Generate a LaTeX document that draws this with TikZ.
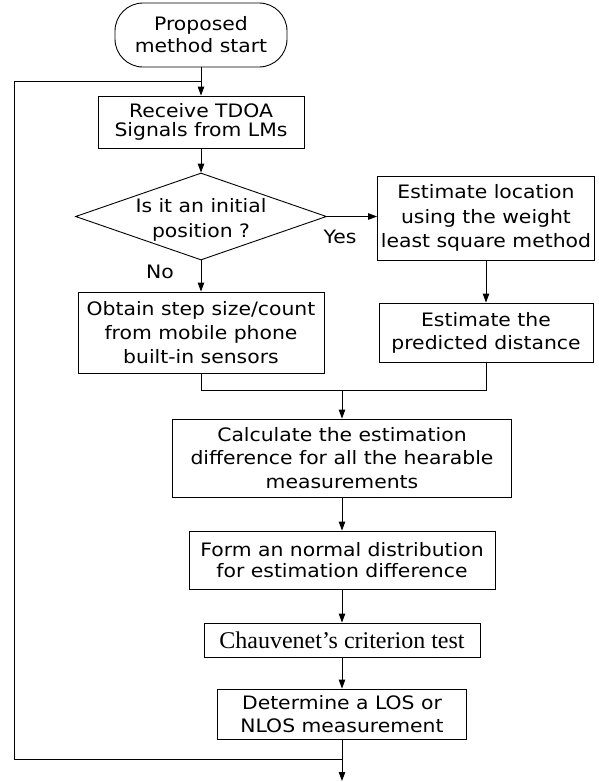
\documentclass[tikz,border=0pt]{standalone}
\usepackage{fontspec}
\setmainfont{DejaVu Sans}[FakeStretch=1.1]
\newfontfamily\serifface{Liberation Serif}
\usetikzlibrary{shapes.geometric,arrows.meta}
\begin{document}
\begin{tikzpicture}[x=1pt,y=-1pt,
  line/.style={line width=0.9pt},
  arr/.style={line width=0.9pt,-{Triangle[length=9pt,width=6.5pt]}},
  box/.style={draw,line width=0.9pt,align=center,inner sep=0pt,font=\fontsize{18.5}{#1}\selectfont},
  box/.default=23pt,
  lbl/.style={inner sep=0pt,align=center,font=\fontsize{18.5}{#1}\selectfont},
  lbl/.default=23pt]
\fill[white] (0,0) rectangle (599,782);
\useasboundingbox (0,0) rectangle (599,782);

\node[box=22pt,minimum width=172pt,minimum height=64pt,rounded corners=28pt] (start) at (201,35) {Proposed\\method start};
\node[box=19pt,minimum width=206pt,minimum height=52pt] (recv) at (201,122) {Receive TDOA\\Signals from LMs};
\node[draw,diamond,line width=0.9pt,minimum width=251pt,minimum height=87pt,inner sep=0pt] (dec) at (201,216.5) {};
\node[lbl=25pt] (dectext) at (201,220) {Is it an initial\\position ?};
\node[lbl] (yes) at (340,237) {Yes};
\node[lbl] (no) at (160,272) {No};
\node[box=24.5pt,minimum width=217pt,minimum height=84pt] (estloc) at (486,218) {Estimate location\\using the weight\\least square method};
\node[box=23pt,minimum width=214pt,minimum height=59pt] (pred) at (486,332.5) {Estimate the\\predicted distance};
\node[box=24pt,minimum width=246pt,minimum height=81pt] (obtain) at (201,332.5) {Obtain step size/count\\from mobile phone\\built-in sensors};
\node[box=23.5pt,minimum width=339pt,minimum height=78pt] (calc) at (342,458) {Calculate the estimation\\difference for all the hearable\\measurements};
\node[box=21.5pt,minimum width=306pt,minimum height=58pt] (form) at (342,560) {Form an normal distribution\\for estimation difference};
\node[box,minimum width=276pt,minimum height=34pt,font=\serifface\fontsize{24}{26}\selectfont] (chauv) at (342,640) {Chauvenet’s criterion test};
\node[box=23pt,minimum width=249pt,minimum height=50pt] (det) at (342,714) {Determine a LOS or\\NLOS measurement};

\coordinate (mergeY) at (342,390);
\coordinate (loopBL) at (14,759);
\coordinate (loopTL) at (14,81);
\coordinate (endpt) at (342,781);

\draw[arr] (start.south) -- (recv.north);
\draw[arr] (recv.south) -- (dec.north);
\draw[arr] (dec.east) -- (dec.east -| estloc.west);
\draw[arr] (dec.south) -- (obtain.north);
\draw[arr] (estloc.south) -- (pred.north);
\draw[line] (obtain.south) -- (obtain.south |- mergeY) -- (mergeY -| pred.south) -- (pred.south);
\draw[arr] (mergeY) -- (calc.north);
\draw[arr] (calc.south) -- (form.north);
\draw[arr] (form.south) -- (chauv.north);
\draw[arr] (chauv.south) -- (det.north);
\draw[arr] (det.south) -- (endpt);
\draw[line] (det.south |- loopBL) -- (loopBL) -- (loopTL) -- (loopTL -| recv.north);
\end{tikzpicture}
\end{document}
